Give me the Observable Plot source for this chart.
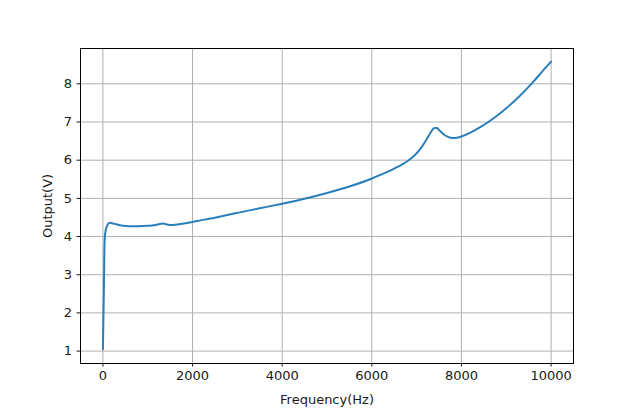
<!DOCTYPE html>
<html>
<head>
<meta charset="utf-8">
<script src="https://cdn.jsdelivr.net/npm/d3@7"></script>
<script src="https://cdn.jsdelivr.net/npm/@observablehq/plot@0.6"></script>
<style>
  html, body { margin: 0; padding: 0; background: #fff; }
</style>
</head>
<body>
<div id="chart"></div>
<script>
const frequency = [0, 20, 40, 70, 100, 150, 200, 300, 450, 600, 800, 1000, 1100, 1200, 1340, 1450, 1565, 1700, 2000, 2200, 2500, 2800, 3000, 3500, 4000, 4500, 5000, 5500, 6000, 6200, 6500, 6800, 6900, 7000, 7100, 7200, 7300, 7400, 7450, 7500, 7600, 7700, 7800, 7900, 8000, 8200, 8400, 8600, 8800, 9000, 9300, 9600, 9800, 10000];
const output = [1.05, 2.5, 3.95, 4.2, 4.3, 4.36, 4.35, 4.32, 4.28, 4.27, 4.27, 4.28, 4.29, 4.31, 4.34, 4.31, 4.30, 4.32, 4.38, 4.43, 4.49, 4.57, 4.62, 4.74, 4.86, 4.99, 5.14, 5.31, 5.52, 5.62, 5.78, 5.98, 6.07, 6.18, 6.32, 6.5, 6.7, 6.84, 6.84, 6.79, 6.68, 6.61, 6.58, 6.59, 6.62, 6.72, 6.85, 7.0, 7.17, 7.36, 7.68, 8.05, 8.32, 8.58];
const xTicks = [0, 2000, 4000, 6000, 8000, 10000];
const yTicks = [1, 2, 3, 4, 5, 6, 7, 8];

const data = frequency.map((f, i) => ({f, v: output[i]}));

const chart = Plot.plot({
  width: 636,
  height: 408,
  marginLeft: 80,
  marginRight: 63,
  marginTop: 48,
  marginBottom: 45,
  style: {fontFamily: "DejaVu Sans", fontSize: "13px", color: "#1a1a1a", background: "#fff"},
  x: {domain: [-500, 10500]},
  y: {domain: [0.675, 8.925]},
  marks: [
    Plot.gridX(xTicks, {stroke: "#b0b0b0", strokeOpacity: 1, strokeWidth: 1}),
    Plot.gridY(yTicks, {stroke: "#b0b0b0", strokeOpacity: 1, strokeWidth: 1}),
    Plot.line(data, {x: "f", y: "v", stroke: "#2a7fba", strokeWidth: 2, curve: "monotone-x"}),
    Plot.frame({stroke: "#000", strokeWidth: 1}),
    Plot.axisX(xTicks, {tickSize: 3.5, tickPadding: 4, tickFormat: d => String(d), label: "Frequency(Hz)", labelAnchor: "center", labelArrow: "none", labelOffset: 40}),
    Plot.axisY(yTicks, {tickSize: 3.5, tickPadding: 5, tickFormat: d => String(d), label: "Output(V)", labelAnchor: "center", labelArrow: "none", labelOffset: 38})
  ]
});
document.getElementById("chart").appendChild(chart);
</script>
</body>
</html>
